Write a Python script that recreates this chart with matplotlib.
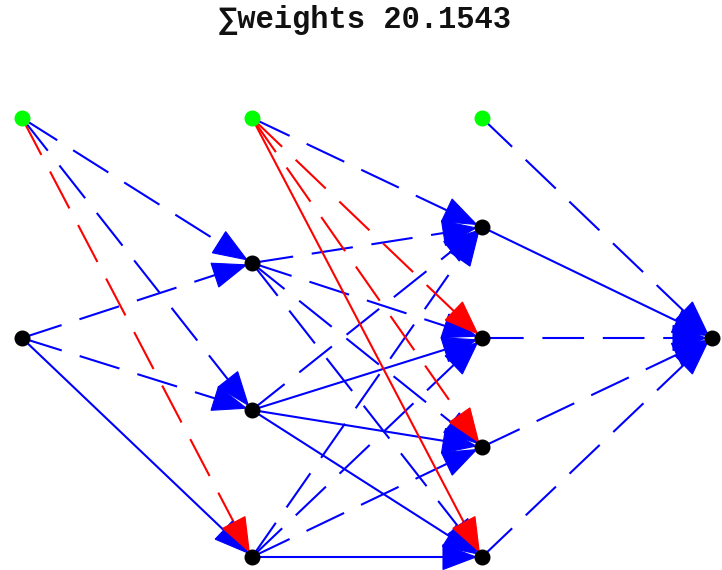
import matplotlib
matplotlib.use("Agg")
import matplotlib.pyplot as plt
import numpy as np
from matplotlib.patches import Polygon

plt.rcParams["lines.scale_dashes"] = False

# ---- network description -------------------------------------------------
title_total = 20.1543

# layers: bias node first, then regular nodes
layer_nodes = [
    ["B1", "I1"],
    ["B2", "H1_1", "H1_2", "H1_3"],
    ["B3", "H2_1", "H2_2", "H2_3", "H2_4"],
    ["O1"],
]
bias_nodes = ["B1", "B2", "B3"]

# connections: source, target, sign of the weight, strong (solid) or weak (dashed)
edge_src = ["I1", "I1", "I1",
            "B1", "B1", "B1",
            "H1_1", "H1_1", "H1_1", "H1_1",
            "H1_2", "H1_2", "H1_2", "H1_2",
            "H1_3", "H1_3", "H1_3", "H1_3",
            "B2", "B2", "B2", "B2",
            "H2_1", "H2_2", "H2_3", "H2_4",
            "B3"]
edge_dst = ["H1_1", "H1_2", "H1_3",
            "H1_1", "H1_2", "H1_3",
            "H2_1", "H2_2", "H2_3", "H2_4",
            "H2_1", "H2_2", "H2_3", "H2_4",
            "H2_1", "H2_2", "H2_3", "H2_4",
            "H2_1", "H2_2", "H2_3", "H2_4",
            "O1", "O1", "O1", "O1",
            "O1"]
edge_sign = [+1, +1, +1,
             +1, +1, -1,
             +1, +1, +1, +1,
             +1, +1, +1, +1,
             +1, +1, +1, +1,
             +1, -1, -1, -1,
             +1, +1, +1, +1,
             +1]
edge_strong = [False, False, True,
               False, False, False,
               False, False, False, False,
               False, True, True, True,
               False, False, False, True,
               False, False, False, True,
               True, False, False, False,
               False]

# ---- layout (pixel coordinates) ------------------------------------------
layer_x = [22, 252, 482, 712]
bias_y = 118
node_y = {"I1": 338,
          "H1_1": 263, "H1_2": 410, "H1_3": 557,
          "H2_1": 227, "H2_2": 338, "H2_3": 447, "H2_4": 557,
          "O1": 338}

pos = {}
for li, names in enumerate(layer_nodes):
    for n in names:
        pos[n] = np.array([layer_x[li], bias_y if n in bias_nodes else node_y[n]], float)

POS_COLOR = "#0000ff"
NEG_COLOR = "#ff0000"
HEAD_LEN = 33.0
HEAD_W = 25.0
TIP_GAP = 6.0
DASH = (0, (30.0, 13.5))

fig = plt.figure(figsize=(7.22, 5.70), dpi=100)
ax = fig.add_axes([0, 0, 1, 1])
ax.set_xlim(0, 722)
ax.set_ylim(570, 0)
ax.axis("off")

# draw regular edges first, bias edges on top
order = sorted(range(len(edge_src)), key=lambda i: edge_src[i] in bias_nodes)
for i in order:
    p0 = pos[edge_src[i]]
    p1 = pos[edge_dst[i]]
    col = POS_COLOR if edge_sign[i] > 0 else NEG_COLOR
    d = p1 - p0
    u = d / np.linalg.norm(d)
    nrm = np.array([-u[1], u[0]])
    tip = p1 - u * TIP_GAP
    base = tip - u * HEAD_LEN
    ls = "-" if edge_strong[i] else DASH
    ax.plot([p0[0], base[0] + u[0] * 4], [p0[1], base[1] + u[1] * 4],
            color=col, lw=1.5, linestyle=ls, solid_capstyle="butt",
            dash_capstyle="butt", zorder=2)
    head = Polygon([tip, base + nrm * HEAD_W / 2, base - nrm * HEAD_W / 2],
                   closed=True, facecolor=col, edgecolor=col, lw=0.8, zorder=3)
    ax.add_patch(head)

for n, p in pos.items():
    ax.plot(p[0], p[1], marker="o", markersize=10.5, linestyle="none",
            color="#00ff00" if n in bias_nodes else "black", zorder=5)

ax.text(365, 20, "\u2211weights %.4f" % title_total, ha="center", va="center",
        fontsize=22, fontweight="bold",
        family=["Liberation Mono", "DejaVu Sans Mono"], color="#111111")

fig.savefig("out.png", dpi=100)
